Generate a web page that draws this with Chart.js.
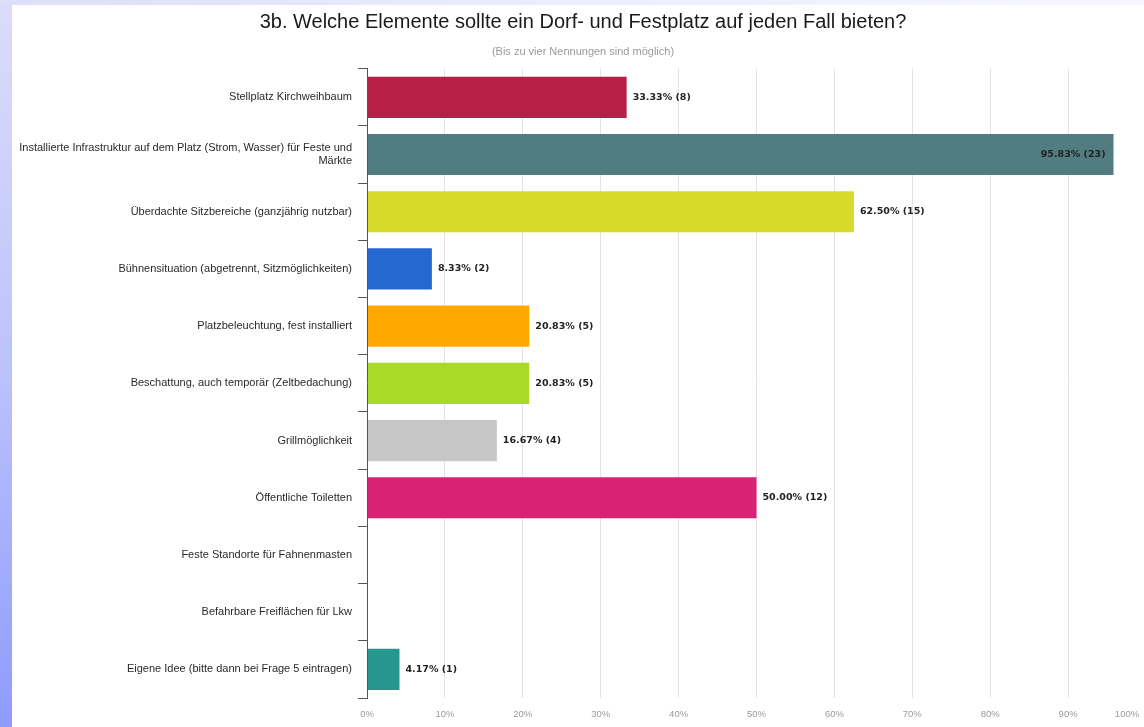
<!DOCTYPE html>
<html><head><meta charset="utf-8">
<script src="https://cdn.jsdelivr.net/npm/chart.js@4.4.1/dist/chart.umd.min.js"></script>
<style>
html,body{margin:0;padding:0;width:1144px;height:727px;overflow:hidden;background:#fff;}
#left{position:absolute;left:0;top:0;width:12px;height:727px;background:linear-gradient(to bottom,#dcdcfa,#bcc3fb 50%,#8e9bfb);}
#top{position:absolute;left:0;top:0;width:1144px;height:5px;background:linear-gradient(to right,#dcdefb,#eceefd 50%,#f6f7ff);}
#wrap{position:absolute;left:12px;top:5px;width:1138px;height:722px;}
</style></head><body>
<div id="left"></div><div id="top"></div>
<div id="wrap"><canvas id="c" width="1138" height="722"></canvas></div>
<script>
const categories = [
  "Stellplatz Kirchweihbaum",
  ["Installierte Infrastruktur auf dem Platz (Strom, Wasser) für Feste und", "Märkte"],
  "Überdachte Sitzbereiche (ganzjährig nutzbar)",
  "Bühnensituation (abgetrennt, Sitzmöglichkeiten)",
  "Platzbeleuchtung, fest installiert",
  "Beschattung, auch temporär (Zeltbedachung)",
  "Grillmöglichkeit",
  "Öffentliche Toiletten",
  "Feste Standorte für Fahnenmasten",
  "Befahrbare Freiflächen für Lkw",
  "Eigene Idee (bitte dann bei Frage 5 eintragen)"
];
const percentages = [33.33, 95.83, 62.50, 8.33, 20.83, 20.83, 16.67, 50.00, 0, 0, 4.17];
const counts = [8, 23, 15, 2, 5, 5, 4, 12, 0, 0, 1];
const barColors = ["#b71f44", "#517c80", "#d7da2a", "#2468d0", "#ffa800", "#a8da27", "#c6c6c6", "#da2275", "#888888", "#888888", "#27968f"];
const xTickLabels = ["0%", "10%", "20%", "30%", "40%", "50%", "60%", "70%", "80%", "90%", "100%"];
const titleText = "3b. Welche Elemente sollte ein Dorf- und Festplatz auf jeden Fall bieten?";
const subtitleText = "(Bis zu vier Nennungen sind möglich)";

const barValueLabels = {
  id: 'barValueLabels',
  afterDatasetsDraw(chart) {
    const ctx = chart.ctx;
    const meta = chart.getDatasetMeta(0);
    const area = chart.chartArea;
    ctx.save();
    ctx.font = 'bold 9.5px "DejaVu Sans", sans-serif';
    ctx.fillStyle = '#222';
    ctx.textBaseline = 'middle';
    meta.data.forEach((bar, i) => {
      const v = percentages[i];
      if (!v) return;
      const txt = v.toFixed(2) + '% (' + counts[i] + ')';
      const w = ctx.measureText(txt).width;
      if (bar.x + 6 + w > area.right) {
        ctx.textAlign = 'right';
        ctx.fillText(txt, bar.x - 8, bar.y);
      } else {
        ctx.textAlign = 'left';
        ctx.fillText(txt, bar.x + 6, bar.y);
      }
    });
    ctx.restore();
  }
};

new Chart(document.getElementById('c'), {
  type: 'bar',
  data: {
    labels: categories,
    datasets: [{
      data: percentages,
      backgroundColor: barColors,
      borderWidth: 0,
      barPercentage: 0.72,
      categoryPercentage: 1
    }]
  },
  plugins: [barValueLabels],
  options: {
    indexAxis: 'y',
    responsive: false,
    animation: false,
    devicePixelRatio: 1,
    layout: { padding: { left: 8, right: 4, top: 0, bottom: 0 } },
    plugins: {
      legend: { display: false },
      tooltip: { enabled: false },
      title: {
        display: true, text: titleText, color: '#1a1a1a',
        font: { family: '"Liberation Sans", Arial, sans-serif', size: 20, weight: 'normal' },
        padding: { top: 5, bottom: 8 }
      },
      subtitle: {
        display: true, text: subtitleText, color: '#9a9a9a',
        font: { family: '"Liberation Sans", Arial, sans-serif', size: 11, weight: 'normal' },
        padding: { top: 3, bottom: 10.5 }
      }
    },
    scales: {
      x: {
        min: 0, max: 100,
        afterBuildTicks(scale) {
          scale.ticks = xTickLabels.map((t, i) => ({ value: i * 10 }));
        },
        afterFit(scale) { scale.paddingLeft = 0; scale.paddingRight = 0; scale.height = 29; },
        grid: { color: '#e3e3e3', drawTicks: false },
        border: { display: false },
        ticks: {
          autoSkip: false, maxRotation: 0, padding: 11, color: '#9a9a9a',
          font: { family: '"Liberation Sans", Arial, sans-serif', size: 9.5 },
          callback: (v, i) => i === xTickLabels.length - 1 ? xTickLabels[i] + '\u2003\u2003\u2003\u2003' : xTickLabels[i]
        }
      },
      y: {
        afterFit(scale) { scale.width = 347; },
        grid: { drawOnChartArea: false, offset: true, color: '#555', tickLength: 9 },
        border: { display: true, color: '#555', z: 1 },
        ticks: {
          padding: 6, color: '#2a2a2a',
          font: { family: '"Liberation Sans", Arial, sans-serif', size: 11, lineHeight: 1.2 }
        }
      }
    }
  }
});
</script>
</body></html>
